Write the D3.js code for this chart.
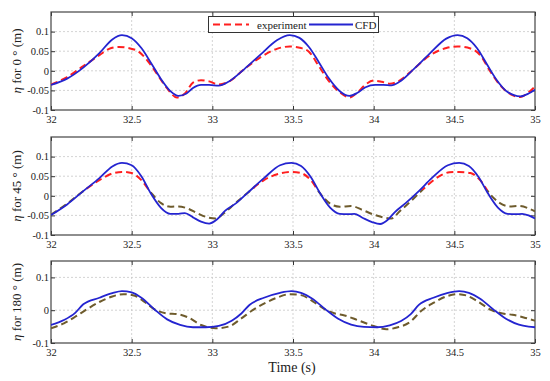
<!DOCTYPE html>
<html><head><meta charset="utf-8">
<script src="https://cdn.jsdelivr.net/npm/d3@7"></script>
<style>body{margin:0;background:#fff;} svg{display:block;} svg text{font-family:"Liberation Serif","Times New Roman",serif;}</style>
</head><body>
<svg id="c" width="550" height="381"></svg>
<script>
const xTicks = [32, 32.5, 33, 33.5, 34, 34.5, 35];
const yTicksFine = [-0.1, -0.05, 0, 0.05, 0.1];
const yTicksCoarse = [-0.1, 0, 0.1];
const panelLabels = ["0", "45", "180"];
const seriesNames = ["experiment", "CFD"];

const cfd0 = [[32.00,-0.036],[32.10,-0.020],[32.20,0.008],[32.30,0.045],[32.38,0.080],[32.44,0.091],[32.50,0.083],[32.56,0.058],[32.62,0.020],[32.68,-0.020],[32.74,-0.052],[32.79,-0.064],[32.84,-0.058],[32.88,-0.044],[32.93,-0.036],[32.98,-0.036],[33.04,-0.038],[33.10,-0.028],[33.20,0.005],[33.30,0.042],[33.40,0.078],[33.48,0.091],[33.54,0.084],[33.60,0.060],[33.66,0.022],[33.72,-0.018],[33.79,-0.052],[33.85,-0.064],[33.90,-0.056],[33.95,-0.042],[34.01,-0.036],[34.06,-0.036],[34.11,-0.037],[34.16,-0.028],[34.25,0.005],[34.35,0.045],[34.45,0.082],[34.52,0.091],[34.58,0.083],[34.64,0.058],[34.70,0.018],[34.76,-0.022],[34.83,-0.054],[34.91,-0.065],[34.96,-0.058],[35.00,-0.048]];
const exp0 = [[32.00,-0.035],[32.10,-0.016],[32.20,0.012],[32.30,0.040],[32.36,0.056],[32.42,0.061],[32.48,0.058],[32.54,0.050],[32.60,0.025],[32.66,-0.010],[32.72,-0.045],[32.78,-0.068],[32.83,-0.058],[32.88,-0.030],[32.93,-0.024],[32.98,-0.027],[33.04,-0.035],[33.10,-0.028],[33.20,0.005],[33.30,0.035],[33.40,0.056],[33.48,0.062],[33.55,0.058],[33.60,0.048],[33.66,0.012],[33.72,-0.025],[33.79,-0.055],[33.85,-0.068],[33.90,-0.055],[33.95,-0.035],[34.00,-0.025],[34.05,-0.028],[34.10,-0.033],[34.16,-0.025],[34.25,0.005],[34.35,0.040],[34.45,0.058],[34.52,0.062],[34.60,0.057],[34.66,0.040],[34.72,0.000],[34.78,-0.035],[34.85,-0.060],[34.91,-0.067],[34.96,-0.055],[35.00,-0.040]];

const cfd45 = [[32.00,-0.049],[32.10,-0.022],[32.20,0.012],[32.30,0.045],[32.38,0.075],[32.44,0.084],[32.50,0.078],[32.56,0.050],[32.62,0.005],[32.68,-0.030],[32.74,-0.046],[32.79,-0.046],[32.83,-0.044],[32.88,-0.055],[32.93,-0.066],[32.98,-0.071],[33.03,-0.060],[33.08,-0.038],[33.15,-0.018],[33.22,0.008],[33.32,0.045],[33.42,0.078],[33.49,0.084],[33.55,0.076],[33.61,0.048],[33.67,0.005],[33.73,-0.030],[33.79,-0.046],[33.84,-0.047],[33.88,-0.046],[33.93,-0.056],[33.99,-0.067],[34.04,-0.072],[34.09,-0.060],[34.13,-0.042],[34.20,-0.018],[34.28,0.012],[34.36,0.045],[34.46,0.078],[34.53,0.084],[34.59,0.076],[34.65,0.048],[34.71,0.005],[34.77,-0.030],[34.83,-0.046],[34.88,-0.047],[34.92,-0.046],[34.96,-0.050],[35.00,-0.058]];
const exp45 = [[32.00,-0.048],[32.10,-0.020],[32.20,0.012],[32.30,0.040],[32.38,0.057],[32.44,0.061],[32.50,0.058],[32.56,0.040],[32.62,0.008],[32.68,-0.018],[32.74,-0.028],[32.79,-0.027],[32.85,-0.033],[32.91,-0.045],[32.97,-0.055],[33.02,-0.058],[33.07,-0.045],[33.14,-0.020],[33.22,0.008],[33.32,0.040],[33.42,0.057],[33.49,0.061],[33.55,0.058],[33.61,0.040],[33.67,0.005],[33.73,-0.020],[33.79,-0.028],[33.86,-0.026],[33.93,-0.036],[34.00,-0.048],[34.06,-0.055],[34.11,-0.058],[34.16,-0.040],[34.24,-0.010],[34.32,0.022],[34.40,0.048],[34.47,0.060],[34.53,0.061],[34.60,0.058],[34.66,0.040],[34.72,0.005],[34.78,-0.018],[34.84,-0.027],[34.90,-0.026],[34.96,-0.032],[35.00,-0.040]];

const cfd180 = [[32.00,-0.045],[32.08,-0.030],[32.15,-0.008],[32.20,0.018],[32.30,0.038],[32.38,0.052],[32.44,0.058],[32.50,0.054],[32.56,0.038],[32.64,0.003],[32.72,-0.028],[32.80,-0.045],[32.88,-0.052],[32.96,-0.052],[33.04,-0.048],[33.12,-0.032],[33.18,-0.010],[33.23,0.016],[33.32,0.038],[33.42,0.053],[33.49,0.058],[33.55,0.053],[33.62,0.035],[33.70,0.003],[33.78,-0.026],[33.86,-0.044],[33.94,-0.051],[34.02,-0.052],[34.10,-0.046],[34.17,-0.033],[34.23,-0.012],[34.28,0.016],[34.37,0.038],[34.46,0.053],[34.53,0.058],[34.59,0.053],[34.66,0.035],[34.74,0.003],[34.82,-0.026],[34.90,-0.044],[34.96,-0.050],[35.00,-0.052]];
const exp180 = [[32.00,-0.055],[32.08,-0.040],[32.15,-0.020],[32.22,0.002],[32.30,0.025],[32.38,0.042],[32.45,0.049],[32.52,0.044],[32.58,0.025],[32.64,0.003],[32.72,-0.010],[32.78,-0.012],[32.85,-0.022],[32.93,-0.045],[33.02,-0.055],[33.10,-0.050],[33.18,-0.025],[33.25,0.000],[33.32,0.020],[33.40,0.038],[33.48,0.049],[33.55,0.046],[33.62,0.028],[33.70,0.002],[33.76,-0.010],[33.82,-0.016],[33.90,-0.030],[34.00,-0.048],[34.08,-0.058],[34.15,-0.052],[34.22,-0.038],[34.30,0.000],[34.37,0.022],[34.45,0.042],[34.52,0.049],[34.58,0.044],[34.65,0.025],[34.73,0.000],[34.80,-0.010],[34.86,-0.014],[34.93,-0.022],[35.00,-0.032]];

const RED = "#ff1f1f", OLIVE = "#6e5b2c", BLUE = "#2424d0";
const panels = [
  {top: 12, bottom: 110, ticks: yTicksFine, exp: exp0, cfd: cfd0, label: panelLabels[0], expMode: "red", legend: true},
  {top: 137, bottom: 235, ticks: yTicksFine, exp: exp45, cfd: cfd45, label: panelLabels[1], expMode: "mix"},
  {top: 261, bottom: 343, ticks: yTicksCoarse, exp: exp180, cfd: cfd180, label: panelLabels[2], expMode: "olive"}
];
const L = 51, R = 535;
const svg = d3.select("#c");
const x = d3.scaleLinear().domain([32, 35]).range([L, R]);

panels.forEach((p, i) => {
  const y = d3.scaleLinear().domain([-0.1, 0.15]).range([p.bottom, p.top]);
  const g = svg.append("g");
  const clipId = "clip" + i;
  svg.append("clipPath").attr("id", clipId).append("rect")
    .attr("x", L).attr("y", p.top).attr("width", R - L).attr("height", p.bottom - p.top);
  g.selectAll(".gx").data(xTicks.slice(1, -1)).enter().append("line")
    .attr("x1", d => x(d)).attr("x2", d => x(d)).attr("y1", p.top).attr("y2", p.bottom)
    .attr("stroke", "#c8c8c8").attr("stroke-width", 0.8).attr("stroke-dasharray", "2,2");
  g.selectAll(".gy").data(p.ticks.slice(1)).enter().append("line")
    .attr("x1", L).attr("x2", R).attr("y1", d => y(d)).attr("y2", d => y(d))
    .attr("stroke", "#c8c8c8").attr("stroke-width", 0.8).attr("stroke-dasharray", "2,2");
  const ax = g.append("g").attr("transform", `translate(0,${p.bottom})`)
    .call(d3.axisBottom(x).tickValues(xTicks).tickFormat(d3.format("")).tickSizeInner(-4).tickSizeOuter(0).tickPadding(6));
  const axT = g.append("g").attr("transform", `translate(0,${p.top})`)
    .call(d3.axisTop(x).tickValues(xTicks).tickFormat("").tickSizeInner(-4).tickSizeOuter(0));
  const ay = g.append("g").attr("transform", `translate(${L},0)`)
    .call(d3.axisLeft(y).tickValues(p.ticks).tickFormat(d => String(d)).tickSizeInner(-4).tickSizeOuter(0).tickPadding(2));
  const ayR = g.append("g").attr("transform", `translate(${R},0)`)
    .call(d3.axisRight(y).tickValues(p.ticks).tickFormat("").tickSizeInner(-4).tickSizeOuter(0));
  [ax, axT, ay, ayR].forEach(a => {
    a.attr("font-family", null);
    a.select(".domain").remove();
    a.selectAll("line").attr("stroke", "#333");
    a.selectAll("text").attr("font-size", 10.5).attr("fill", "#222");
  });
  g.append("rect").attr("x", L).attr("y", p.top).attr("width", R - L).attr("height", p.bottom - p.top)
    .attr("fill", "none").attr("stroke", "#444").attr("stroke-width", 1.2);

  const line = d3.line().x(d => x(d[0])).y(d => y(d[1])).curve(d3.curveMonotoneX);
  let expStroke = RED;
  if (p.expMode === "olive") expStroke = OLIVE;
  if (p.expMode === "mix") {
    const gid = "grad" + i;
    const grad = svg.append("defs").append("linearGradient").attr("id", gid)
      .attr("gradientUnits", "userSpaceOnUse").attr("x1", 0).attr("x2", 0)
      .attr("y1", y(0.15)).attr("y2", y(-0.1));
    const t = (y(0.015) - y(0.15)) / (y(-0.1) - y(0.15));
    grad.append("stop").attr("offset", 0).attr("stop-color", RED);
    grad.append("stop").attr("offset", t).attr("stop-color", RED);
    grad.append("stop").attr("offset", t).attr("stop-color", OLIVE);
    grad.append("stop").attr("offset", 1).attr("stop-color", OLIVE);
    expStroke = `url(#${gid})`;
  }
  const pl = g.append("g").attr("clip-path", `url(#${clipId})`);
  pl.append("path").datum(p.exp).attr("d", line).attr("fill", "none")
    .attr("stroke", expStroke).attr("stroke-width", 2).attr("stroke-dasharray", "7,4");
  pl.append("path").datum(p.cfd).attr("d", line).attr("fill", "none")
    .attr("stroke", BLUE).attr("stroke-width", 1.8);

  const cy = (p.top + p.bottom) / 2;
  const lab = svg.append("text").attr("transform", `translate(21,${cy}) rotate(-90)`)
    .attr("text-anchor", "middle").attr("font-size", 13).attr("fill", "#222");
  lab.append("tspan").attr("font-style", "italic").text("\u03b7");
  lab.append("tspan").text(" for " + p.label + " \u00b0  (m)");

  if (p.legend) {
    const lg = svg.append("g");
    lg.append("rect").attr("x", 208.5).attr("y", 16.5).attr("width", 170).attr("height", 16)
      .attr("fill", "#fff").attr("stroke", "#333").attr("stroke-width", 1);
    lg.append("line").attr("x1", 213).attr("x2", 249).attr("y1", 24.5).attr("y2", 24.5)
      .attr("stroke", RED).attr("stroke-width", 2).attr("stroke-dasharray", "7,4");
    lg.append("text").attr("x", 257).attr("y", 28.5).attr("font-size", 11).attr("fill", "#222").text(seriesNames[0]);
    lg.append("line").attr("x1", 309).attr("x2", 353).attr("y1", 24.5).attr("y2", 24.5)
      .attr("stroke", BLUE).attr("stroke-width", 1.8);
    lg.append("text").attr("x", 355).attr("y", 28.5).attr("font-size", 11).attr("fill", "#222").text(seriesNames[1]);
  }
});

svg.append("text").attr("x", 292).attr("y", 372).attr("text-anchor", "middle")
  .attr("font-size", 14).attr("fill", "#222").text("Time (s)");
</script>
</body></html>
